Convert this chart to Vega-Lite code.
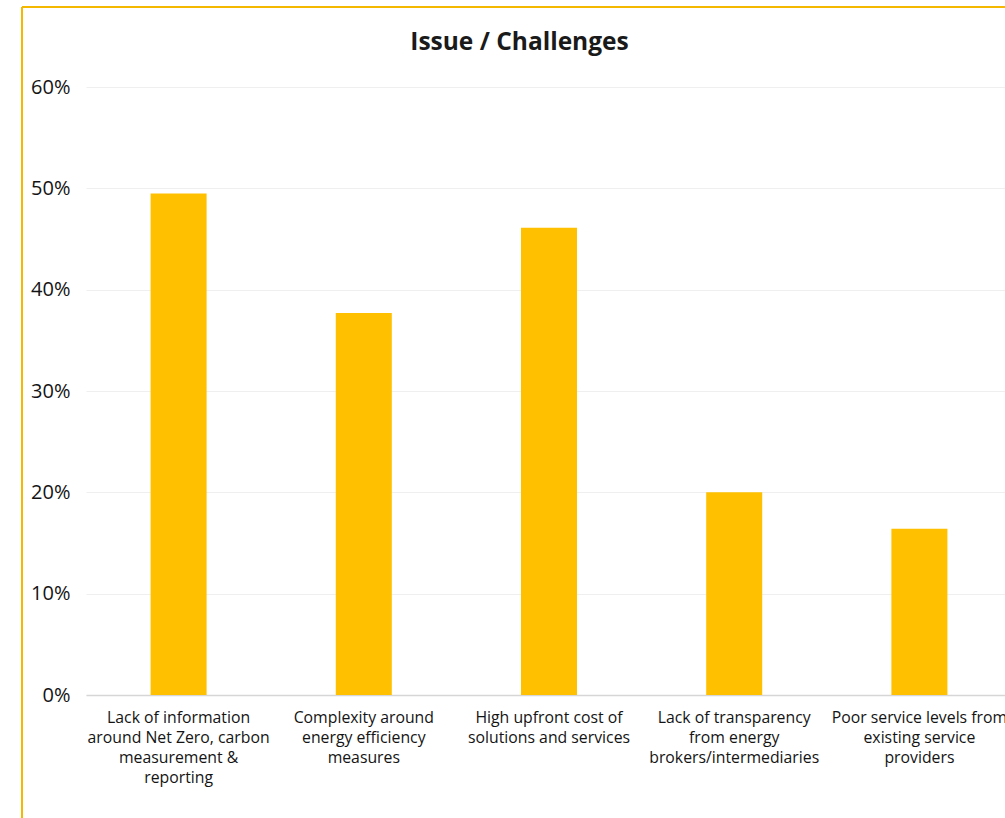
{
  "$schema": "https://vega.github.io/schema/vega-lite/v6.json",
  "autosize": "none",
  "width": 983,
  "height": 811,
  "padding": {"left": 22, "top": 7, "right": 0, "bottom": 0},
  "background": "#ffffff",
  "title": {
    "text": "Issue / Challenges",
    "anchor": "middle",
    "baseline": "alphabetic",
    "offset": -67,
    "dx": 6,
    "font": "Open Sans",
    "fontSize": 24.5,
    "fontWeight": "bold",
    "color": "#1a1a1a"
  },
  "data": {
    "values": [
      {"issue": "Lack of information\naround Net Zero, carbon\nmeasurement &\nreporting", "share": 0.495},
      {"issue": "Complexity around\nenergy efficiency\nmeasures", "share": 0.377},
      {"issue": "High upfront cost of\nsolutions and services", "share": 0.461},
      {"issue": "Lack of transparency\nfrom energy\nbrokers/intermediaries", "share": 0.2},
      {"issue": "Poor service levels from\nexisting service\nproviders", "share": 0.164}
    ]
  },
  "mark": {"type": "bar", "color": "#FFC000"},
  "encoding": {
    "x": {
      "field": "issue",
      "type": "nominal",
      "sort": null,
      "title": null,
      "scale": {"range": [64, 990], "paddingInner": 0.6976, "paddingOuter": 0.3488},
      "axis": {
        "offset": -123,
        "labelExpr": "split(datum.label, '\\n')",
        "labelAngle": 0,
        "labelLimit": 0,
        "labelPadding": 15,
        "labelLineHeight": 20,
        "labelFont": "Open Sans",
        "labelFontSize": 15.8,
        "labelColor": "#141414",
        "ticks": false,
        "domainColor": "#d6d6d6",
        "domainWidth": 1.5,
        "grid": false
      }
    },
    "y": {
      "field": "share",
      "type": "quantitative",
      "title": null,
      "scale": {"domain": [0, 0.6], "range": [688, 80], "nice": false},
      "axis": {
        "offset": -64,
        "values": [0, 0.1, 0.2, 0.3, 0.4, 0.5, 0.6],
        "format": ".0%",
        "domain": false,
        "ticks": false,
        "labelPadding": 16,
        "labelFont": "Open Sans",
        "labelFontSize": 20,
        "labelColor": "#141414",
        "grid": true,
        "gridColor": "#efefef",
        "gridWidth": 1
      }
    }
  },
  "config": {
    "view": {
      "stroke": "#F5B800",
      "strokeWidth": 2,
      "strokeDash": [983, 1794, 811, 0]
    }
  }
}
